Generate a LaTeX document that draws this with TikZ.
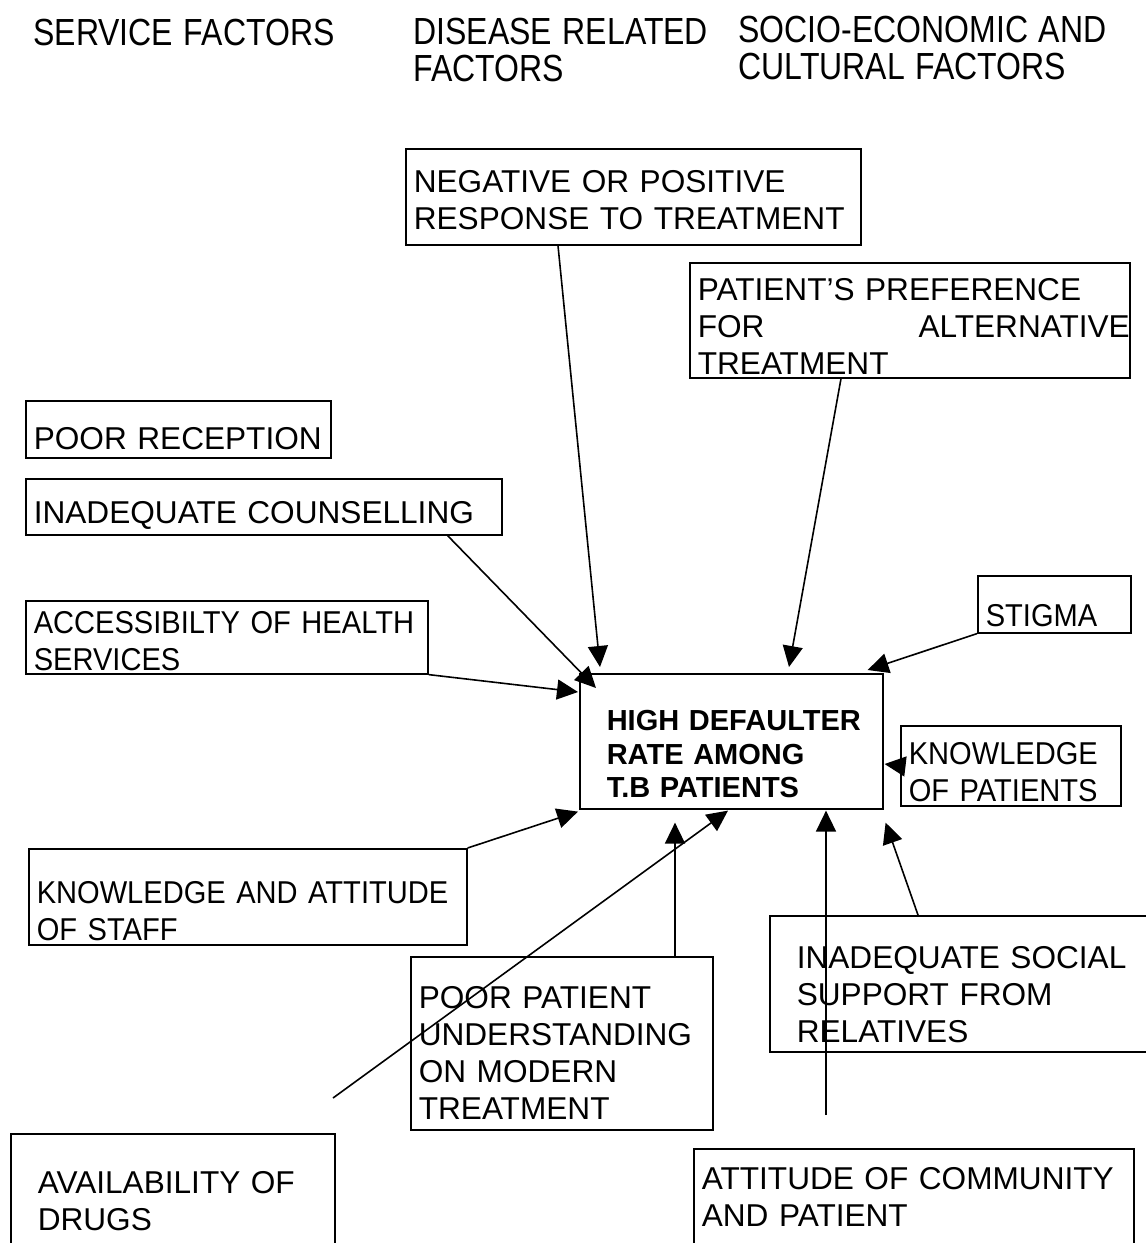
\documentclass[tikz,border=0pt]{standalone}
\usepackage{fontspec}
\setmainfont{Liberation Sans}
\newfontfamily\narrowsans[FakeStretch=0.92]{Liberation Sans}
\usepackage{graphicx}
\usetikzlibrary{arrows.meta}

\newcommand{\tallcaps}[1]{\scalebox{1}[1.18]{#1}}

\begin{document}
\begin{tikzpicture}[x=0.5pt,y=-0.5pt,
  factor/.style={draw,anchor=north west,inner sep=0pt,align=left,line width=0.8pt,font=\fontsize{15.8}{18.5}\selectfont,execute at begin node={\leftskip=4pt\hyphenpenalty=10000}},
  narrow/.style={font=\narrowsans\fontsize{15.8}{18.5}\selectfont},
  wideleft/.style={execute at begin node={\leftskip=13.5pt\hyphenpenalty=10000}},
  heading/.style={anchor=north west,inner sep=0pt,align=left,text width=200pt,text height=22pt,font=\fontsize{16}{18.5}\selectfont},
  cause/.style={-{Triangle[length=10.5pt,width=10pt]},line width=0.8pt}]
\useasboundingbox (0,0) rectangle (1146,1243);
\clip (0,0) rectangle (1146,1243);

% column headings
\node[heading,text height=22.5pt] (svc) at (33,0) {\tallcaps{SERVICE FACTORS}};
\node[heading] (dis) at (413,0) {\tallcaps{DISEASE RELATED}\\\tallcaps{FACTORS}};
\node[heading,text height=21pt] (soc) at (738,0) {\tallcaps{SOCIO-ECONOMIC AND}\\\tallcaps{CULTURAL FACTORS}};

% the problem
\node[factor,wideleft,text width=151.5pt,text height=28.5pt,text depth=39pt,font=\bfseries\fontsize{14.5}{16.7}\selectfont] (core) at (579,673) {HIGH DEFAULTER\\RATE AMONG\\T.B PATIENTS};

% factors
\node[factor,text width=227.5pt,text height=21.75pt,text depth=26.25pt] (neg) at (405,148) {NEGATIVE OR POSITIVE\\RESPONSE TO TREATMENT};
\node[factor,text width=220pt,text height=18.75pt,text depth=38.75pt] (pref) at (689,262) {PATIENT'S PREFERENCE\\FOR\hfill ALTERNATIVE\\TREATMENT};
\node[factor,text width=152.5pt,text height=24.25pt,text depth=4.25pt] (recep) at (25,400) {POOR RECEPTION};
\node[factor,text width=238pt,text height=22.25pt,text depth=5.75pt] (couns) at (25,478) {INADEQUATE COUNSELLING};
\node[factor,narrow,text width=201pt,text height=16.25pt,text depth=20.25pt] (access) at (25,600) {ACCESSIBILTY OF HEALTH\\SERVICES};
\node[factor,narrow,text width=76.5pt,text height=25.5pt,text depth=3pt] (stigma) at (977,575) {STIGMA};
\node[factor,narrow,text width=110pt,text height=19.25pt,text depth=20.75pt] (knowpat) at (900,725) {KNOWLEDGE\\OF PATIENTS};
\node[factor,narrow,text width=219pt,text height=27.25pt,text depth=20.75pt] (staff) at (28,848) {KNOWLEDGE AND ATTITUDE\\OF STAFF};
\node[factor,text width=151pt,text height=25.75pt,text depth=60.75pt] (understand) at (410,956) {POOR PATIENT\\UNDERSTANDING\\ON MODERN\\TREATMENT};
\node[factor,wideleft,text width=195.5pt,text height=26.25pt,text depth=41.75pt] (social) at (769,915) {INADEQUATE SOCIAL\\SUPPORT FROM\\RELATIVES};
\node[factor,wideleft,text width=162pt,text height=29.75pt,text depth=38.75pt] (drugs) at (10,1133) {AVAILABILITY OF\\DRUGS};
\node[factor,text width=220pt,text height=20.25pt,text depth=40.75pt] (community) at (693,1148) {ATTITUDE OF COMMUNITY\\AND PATIENT};

\coordinate (drugstail) at (333,1098);
\coordinate (commtail) at (826,1115);

% arrows into the problem
\draw[cause] ([xshift=76.5pt]neg.south west) -- ([xshift=10.5pt,yshift=3pt]core.north west);
\draw[cause] ([xshift=76pt]pref.south west) -- ([xshift=105pt,yshift=3pt]core.north west);
\draw[cause] ([xshift=-27.5pt]couns.south east) -- ([xshift=8.5pt,yshift=-7.5pt]core.north west);
\draw[cause] (access.south east) -- ([xshift=-0.5pt,yshift=-9.5pt]core.north west);
\draw[cause] (stigma.south west) -- ([xshift=-8pt,yshift=1.5pt]core.north east);
\draw[cause] (knowpat.west) -- ([xshift=0.5pt,yshift=-45.5pt]core.north east);
\draw[cause] (staff.north east) -- ([xshift=-0.5pt,yshift=-1pt]core.south west);
\draw[cause] (drugstail) -- ([xshift=74.5pt,yshift=-0.5pt]core.south west);
\draw[cause] ([xshift=132.5pt]understand.north west) -- ([xshift=48pt,yshift=-6.5pt]core.south west);
\draw[cause] (commtail) -- ([xshift=123.5pt,yshift=-0.5pt]core.south west);
\draw[cause] ([xshift=74.5pt]social.north west) -- ([xshift=1pt,yshift=-6.5pt]core.south east);
\end{tikzpicture}
\end{document}
